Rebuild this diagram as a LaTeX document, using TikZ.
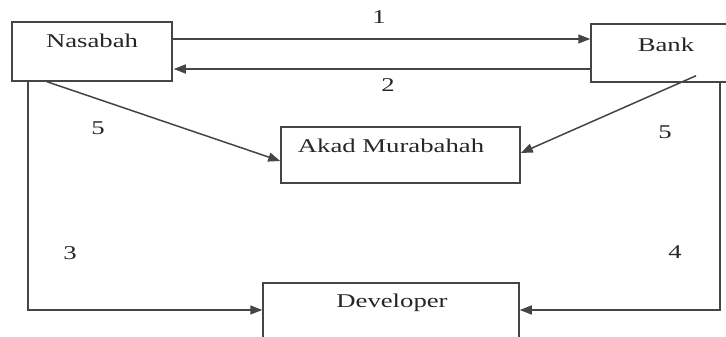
\documentclass[tikz,border=0pt]{standalone}
\usepackage{fontspec}
\usetikzlibrary{arrows.meta}
\newfontfamily\dfont[FakeStretch=1.37]{Liberation Serif}
\definecolor{lnc}{HTML}{454545}
\definecolor{txc}{HTML}{262626}
\tikzset{
  box/.style={draw=lnc, line width=1.5pt, rectangle, inner sep=0pt},
  lbl/.style={font=\dfont\fontsize{19.5}{22}\selectfont, text=txc, inner sep=0pt, anchor=base},
  conn/.style={draw=lnc, line width=1.5pt},
  arr/.style={conn, -{Triangle[length=12pt,width=9pt]}}
}
\begin{document}
\begin{tikzpicture}[x=1pt,y=-1pt]
\useasboundingbox (0,0) rectangle (726,337);
\fill[white] (0,0) rectangle (726,337);
\begin{scope}
\clip (0,0) rectangle (726,337);
\node[box, minimum width=160pt, minimum height=59pt] (nas) at (92,51.5) {};
\node[box, minimum width=169pt, minimum height=58pt] (bank) at (675.5,53) {};
\node[box, minimum width=239pt, minimum height=56pt] (akad) at (400.5,155) {};
\node[box, minimum width=256pt, minimum height=77pt] (dev) at (391,321.5) {};
\end{scope}
\node[lbl] (tnas) at (92,48) {Nasabah};
\node[lbl] (tbank) at (666,52) {Bank};
\node[lbl] (takad) at (391,152) {Akad Murabahah};
\node[lbl] (tdev) at (392,307) {Developer};
\node[lbl] (n1) at (379,24) {1};
\node[lbl] (n2) at (388,92) {2};
\node[lbl] (n5a) at (98,135) {5};
\node[lbl] (n5b) at (665,138) {5};
\node[lbl] (n3) at (70,259) {3};
\node[lbl] (n4) at (675,258) {4};
\draw[arr] ([yshift=12.5pt]nas.east) -- ([yshift=14pt]bank.west);
\draw[arr] ([yshift=-16pt]bank.west) -- ([yshift=-17.5pt,xshift=1pt]nas.east);
\draw[arr] ([xshift=-45pt]nas.south) -- ([yshift=-6pt]akad.west);
\draw[arr] ([xshift=20.5pt,yshift=7pt]bank.south) -- ([yshift=2pt]akad.east);
\draw[arr] ([xshift=-64pt]nas.south) |- ([yshift=11.5pt]dev.west);
\draw[arr] ([xshift=44.5pt]bank.south) |- ([yshift=11.5pt]dev.east);
\end{tikzpicture}
\end{document}
